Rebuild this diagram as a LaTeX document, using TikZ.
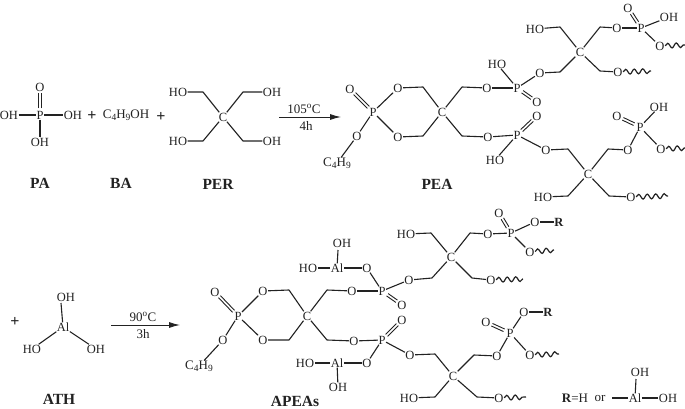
\documentclass[tikz,border=0pt]{standalone}
\usepackage{fontspec}
\setmainfont{Liberation Serif}
\usetikzlibrary{arrows.meta,decorations.pathmorphing,calc}
\definecolor{ink}{HTML}{222222}
\newcommand{\lowsc}[1]{\raisebox{-2pt}{\fontsize{9.5}{9.5}\selectfont #1}}
\newcommand{\dbond}[2]{\draw[dblline] ($(#1)!1.4pt!90:(#2)$) -- ($(#2)!1.4pt!-90:(#1)$); \draw[dblline] ($(#1)!1.4pt!-90:(#2)$) -- ($(#2)!1.4pt!90:(#1)$);}
\tikzset{
  atom/.style={inner sep=0.4pt,text=ink,font=\fontsize{12.5}{13}\selectfont,text height=8.2pt,text depth=0pt},
  title/.style={inner sep=0pt,text=ink,font=\fontsize{15.5}{16}\selectfont\bfseries},
  plain/.style={inner sep=0pt,text=ink,font=\fontsize{13}{13}\selectfont},
  plus/.style={inner sep=0pt,text=ink,font=\fontsize{16}{16}\selectfont\bfseries},
  bond/.style={draw=ink,line width=1.1pt,line join=round},
  dblline/.style={draw=ink,line width=0.9pt,shorten <=6.5pt,shorten >=6.5pt},
  wavy/.style={draw=ink,line width=1.2pt,decorate,decoration={snake,segment length=8.5pt,amplitude=2.4pt}},
  react/.style={draw=ink,line width=0.9pt,-{Latex[length=11pt,width=6pt]}}
}
\begin{document}
\begin{tikzpicture}[x=1pt,y=-1pt]
\useasboundingbox (0,0) rectangle (685,409);
\fill[white] (0,0) rectangle (685,409);
% PA
\node[atom] (paL) at (9,115) {OH};
\node[atom] (paP) at (40,115) {P};
\node[atom] (paO) at (40,87) {O};
\node[atom] (paR) at (73,115) {OH};
\node[atom] (paB) at (40,142) {OH};
\draw[bond] (paL)--(paP); \draw[bond] (paP)--(paR); \draw[bond] (paP)--(paB);
\dbond{paP}{paO}
\node[plus] (p1) at (92,116) {+};
\node[plain] (ba) at (126,115) {C\lowsc{4}H\lowsc{9}OH};
\node[plus] (p2) at (161,117) {+};
% PER
\node[atom] (perC) at (223,117) {C};
\node[atom] (perTL) at (178,92) {HO};
\node[atom] (perTR) at (272,92) {OH};
\node[atom] (perBL) at (178,141) {HO};
\node[atom] (perBR) at (272,141) {OH};
\coordinate (b1) at (203,92); \coordinate (b2) at (243,92);
\coordinate (b3) at (203,141); \coordinate (b4) at (243,141);
\draw[bond] (perTL)--(b1)--(perC);
\draw[bond] (perTR)--(b2)--(perC);
\draw[bond] (perBL)--(b3)--(perC);
\draw[bond] (perBR)--(b4)--(perC);
% arrow 1
\coordinate (a1s) at (279,117); \coordinate (a1e) at (341,117);
\draw[react] (a1s)--(a1e);
\node[plain] (t105) at (304,109) {105\textsuperscript{o}C};
\node[plain] (t4h) at (306,126) {4h};
\node[title] (lPA) at (40,183) {PA};
\node[title] (lBA) at (121,183) {BA};
\node[title] (lPER) at (218,184) {PER};
% PEA ring
\node[atom] (aOd) at (350,89) {O};
\node[atom] (aP) at (373,112) {P};
\node[atom] (aO1) at (398,88) {O};
\node[atom] (aO2) at (398,137) {O};
\node[atom] (aO3) at (357,136) {O};
\node[plain] (aBu) at (337,163) {C\lowsc{4}H\lowsc{9}};
\coordinate (c1) at (423,87); \coordinate (c2) at (423,136);
\node[atom] (aC) at (442,112) {C};
\coordinate (c3) at (462,87); \coordinate (c4) at (462,136);
\dbond{aP}{aOd}
\draw[bond] (aP)--(aO1); \draw[bond] (aP)--(aO2); \draw[bond] (aP)--(aO3);
\draw[bond] (aO3)--(aBu);
\draw[bond] (aO1)--(c1)--(aC); \draw[bond] (aO2)--(c2)--(aC);
% upper arm
\node[atom] (aO4) at (487,88) {O};
\node[atom] (aP2) at (517,88) {P};
\node[atom] (aHO2) at (497,64) {HO};
\node[atom] (aOd2) at (537,102) {O};
\node[atom] (aO5) at (540,73) {O};
\draw[bond] (aC)--(c3)--(aO4); \draw[bond] (aO4)--(aP2); \draw[bond] (aP2)--(aHO2);
\dbond{aP2}{aOd2} \draw[bond] (aP2)--(aO5);
\coordinate (c5) at (560,72);
\node[atom] (aC2) at (580,52) {C};
\coordinate (c6) at (560,27); \coordinate (c7) at (600,27); \coordinate (c8) at (600,71);
\node[atom] (aHO3) at (535,29) {HO};
\node[atom] (aO6) at (617,28) {O};
\node[atom] (aP3) at (641,28) {P};
\node[atom] (aOd3) at (628,8) {O};
\node[atom] (aOH3) at (669,17) {OH};
\node[atom] (aO7) at (660,46) {O};
\node[atom] (aO8) at (618,72) {O};
\coordinate (w1) at (685,45); \coordinate (w2) at (651,71);
\draw[bond] (aO5)--(c5)--(aC2); \draw[bond] (aC2)--(c6)--(aHO3);
\draw[bond] (aC2)--(c7)--(aO6); \draw[bond] (aC2)--(c8)--(aO8);
\draw[bond] (aO6)--(aP3); \dbond{aP3}{aOd3} \draw[bond] (aP3)--(aOH3); \draw[bond] (aP3)--(aO7);
\draw[wavy] (aO7)--(w1); \draw[wavy] (aO8)--(w2);
% lower arm
\node[atom] (aO9) at (488,137) {O};
\node[atom] (aP4) at (517,135) {P};
\node[atom] (aOd4) at (537,116) {O};
\node[atom] (aHO4) at (495,160) {HO};
\node[atom] (aO10) at (546,150) {O};
\draw[bond] (aC)--(c4)--(aO9); \draw[bond] (aO9)--(aP4); \dbond{aP4}{aOd4}
\draw[bond] (aP4)--(aHO4); \draw[bond] (aP4)--(aO10);
\coordinate (c9) at (568,149); \coordinate (c10) at (608,149);
\coordinate (c11) at (568,196); \coordinate (c12) at (609,196);
\node[atom] (aC3) at (588,174) {C};
\node[atom] (aO11) at (628,150) {O};
\node[atom] (aP5) at (640,127) {P};
\node[atom] (aOd5) at (617,116) {O};
\node[atom] (aOH5) at (659,107) {OH};
\node[atom] (aO12) at (661,149) {O};
\node[atom] (aHO5) at (543,197) {HO};
\node[atom] (aO13) at (631,197) {O};
\coordinate (w3) at (685,148); \coordinate (w4) at (668,196);
\draw[bond] (aO10)--(c9)--(aC3); \draw[bond] (aC3)--(c10)--(aO11);
\draw[bond] (aC3)--(c11)--(aHO5); \draw[bond] (aC3)--(c12)--(aO13);
\draw[bond] (aO11)--(aP5); \dbond{aP5}{aOd5} \draw[bond] (aP5)--(aOH5); \draw[bond] (aP5)--(aO12);
\draw[wavy] (aO12)--(w3); \draw[wavy] (aO13)--(w4);
\node[title] (lPEA) at (437,184) {PEA};
% ATH
\node[plus] (p3) at (15,322) {+};
\node[atom] (tOHt) at (66,297) {OH};
\node[atom] (tAl) at (63,327) {Al};
\node[atom] (tHO) at (32,349) {HO};
\node[atom] (tOH) at (96,349) {OH};
\coordinate (tT) at (61,303);
\draw[bond] (tAl)--(tT); \draw[bond] (tAl)--(tHO); \draw[bond] (tAl)--(tOH);
\node[title] (lATH) at (59,399) {ATH};
% arrow 2
\coordinate (a2s) at (111,325); \coordinate (a2e) at (180,325);
\draw[react] (a2s)--(a2e);
\node[plain] (t90) at (143,317) {90\textsuperscript{o}C};
\node[plain] (t3h) at (143,334) {3h};
% APEA ring
\node[atom] (bOd) at (215,292) {O};
\node[atom] (bP) at (238,316) {P};
\node[atom] (bO1) at (263,291) {O};
\node[atom] (bO2) at (263,340) {O};
\node[atom] (bO3) at (223,340) {O};
\node[plain] (bBu) at (199,366) {C\lowsc{4}H\lowsc{9}};
\coordinate (d1) at (289,290); \coordinate (d2) at (289,340);
\coordinate (d3) at (327,290); \coordinate (d4) at (327,340);
\node[atom] (bC) at (307,316) {C};
\dbond{bP}{bOd} \draw[bond] (bP)--(bO1); \draw[bond] (bP)--(bO2); \draw[bond] (bP)--(bO3);
\draw[bond] (bO3)--(bBu);
\draw[bond] (bO1)--(d1)--(bC); \draw[bond] (bO2)--(d2)--(bC);
% upper
\node[atom] (bO4) at (352,291) {O};
\node[atom] (bP2) at (382,291) {P};
\node[atom] (bOd2) at (402,305) {O};
\node[atom] (bO5) at (367,268) {O};
\node[atom] (bAl) at (337,268) {Al};
\node[atom] (bHOa) at (308,268) {HO};
\node[atom] (bOHa) at (342,243) {OH};
\node[atom] (bO6) at (409,280) {O};
\coordinate (bT) at (338,250);
\draw[bond] (bC)--(d3)--(bO4); \draw[bond] (bO4)--(bP2); \dbond{bP2}{bOd2}
\draw[bond] (bP2)--(bO5); \draw[bond] (bO5)--(bAl); \draw[bond] (bAl)--(bHOa); \draw[bond] (bAl)--(bT);
\draw[bond] (bP2)--(bO6);
\coordinate (d5) at (432,278); \coordinate (d6) at (431,233); \coordinate (d7) at (470,233); \coordinate (d8) at (472,278);
\node[atom] (bC2) at (451,257) {C};
\node[atom] (bHO3) at (406,234) {HO};
\node[atom] (bO7) at (488,234) {O};
\node[atom] (bP3) at (511,233) {P};
\node[atom] (bOd3) at (499,213) {O};
\node[atom] (bO8) at (535,222) {O};
\node[atom,font=\fontsize{12.5}{13}\selectfont\bfseries] (bR1) at (559,222) {R};
\node[atom] (bO9) at (530,252) {O};
\node[atom] (bO10) at (491,280) {O};
\coordinate (w5) at (554,250); \coordinate (w6) at (523,279);
\draw[bond] (bO6)--(d5)--(bC2); \draw[bond] (bC2)--(d6)--(bHO3);
\draw[bond] (bC2)--(d7)--(bO7); \draw[bond] (bC2)--(d8)--(bO10);
\draw[bond] (bO7)--(bP3); \dbond{bP3}{bOd3} \draw[bond] (bP3)--(bO8); \draw[bond] (bO8)--(bR1);
\draw[bond] (bP3)--(bO9); \draw[wavy] (bO9)--(w5); \draw[wavy] (bO10)--(w6);
% lower
\node[atom] (bO11) at (354,341) {O};
\node[atom] (bP4) at (382,340) {P};
\node[atom] (bOd4) at (402,320) {O};
\node[atom] (bO12) at (367,363) {O};
\node[atom] (bAl2) at (337,363) {Al};
\node[atom] (bHOb) at (305,363) {HO};
\node[atom] (bOHb) at (338,387) {OH};
\node[atom] (bO13) at (410,355) {O};
\draw[bond] (bC)--(d4)--(bO11); \draw[bond] (bO11)--(bP4); \dbond{bP4}{bOd4}
\draw[bond] (bP4)--(bO12); \draw[bond] (bO12)--(bAl2); \draw[bond] (bAl2)--(bHOb); \draw[bond] (bAl2)--(bOHb);
\draw[bond] (bP4)--(bO13);
\coordinate (d9) at (435,354); \coordinate (d10) at (474,355); \coordinate (d11) at (435,397); \coordinate (d12) at (477,397);
\node[atom] (bC3) at (453,376) {C};
\node[atom] (bO14) at (497,356) {O};
\node[atom] (bP5) at (510,333) {P};
\node[atom] (bOd5) at (486,322) {O};
\node[atom] (bO15) at (524,312) {O};
\node[atom,font=\fontsize{12.5}{13}\selectfont\bfseries] (bR2) at (548,312) {R};
\node[atom] (bO16) at (530,355) {O};
\node[atom] (bHO5) at (409,398) {HO};
\node[atom] (bO17) at (499,398) {O};
\coordinate (w7) at (559,354); \coordinate (w8) at (526,397);
\draw[bond] (bO13)--(d9)--(bC3); \draw[bond] (bC3)--(d10)--(bO14);
\draw[bond] (bC3)--(d11)--(bHO5); \draw[bond] (bC3)--(d12)--(bO17);
\draw[bond] (bO14)--(bP5); \dbond{bP5}{bOd5} \draw[bond] (bP5)--(bO15); \draw[bond] (bO15)--(bR2);
\draw[bond] (bP5)--(bO16); \draw[wavy] (bO16)--(w7); \draw[wavy] (bO17)--(w8);
\node[title] (lAPEA) at (295,401) {APEAs};
% legend
\node[plain] (rEq) at (575,398) {\textbf{R}=H};
\node[plain] (rOr) at (600,398) {or};
\node[atom] (rAl) at (635,398) {Al};
\node[atom] (rOH) at (668,398) {OH};
\node[atom] (rOHt) at (640,372) {OH};
\coordinate (rS) at (612,398); \coordinate (rT) at (636,379);
\draw[bond] (rS)--(rAl); \draw[bond] (rAl)--(rOH); \draw[bond] (rAl)--(rT);
\end{tikzpicture}
\end{document}
